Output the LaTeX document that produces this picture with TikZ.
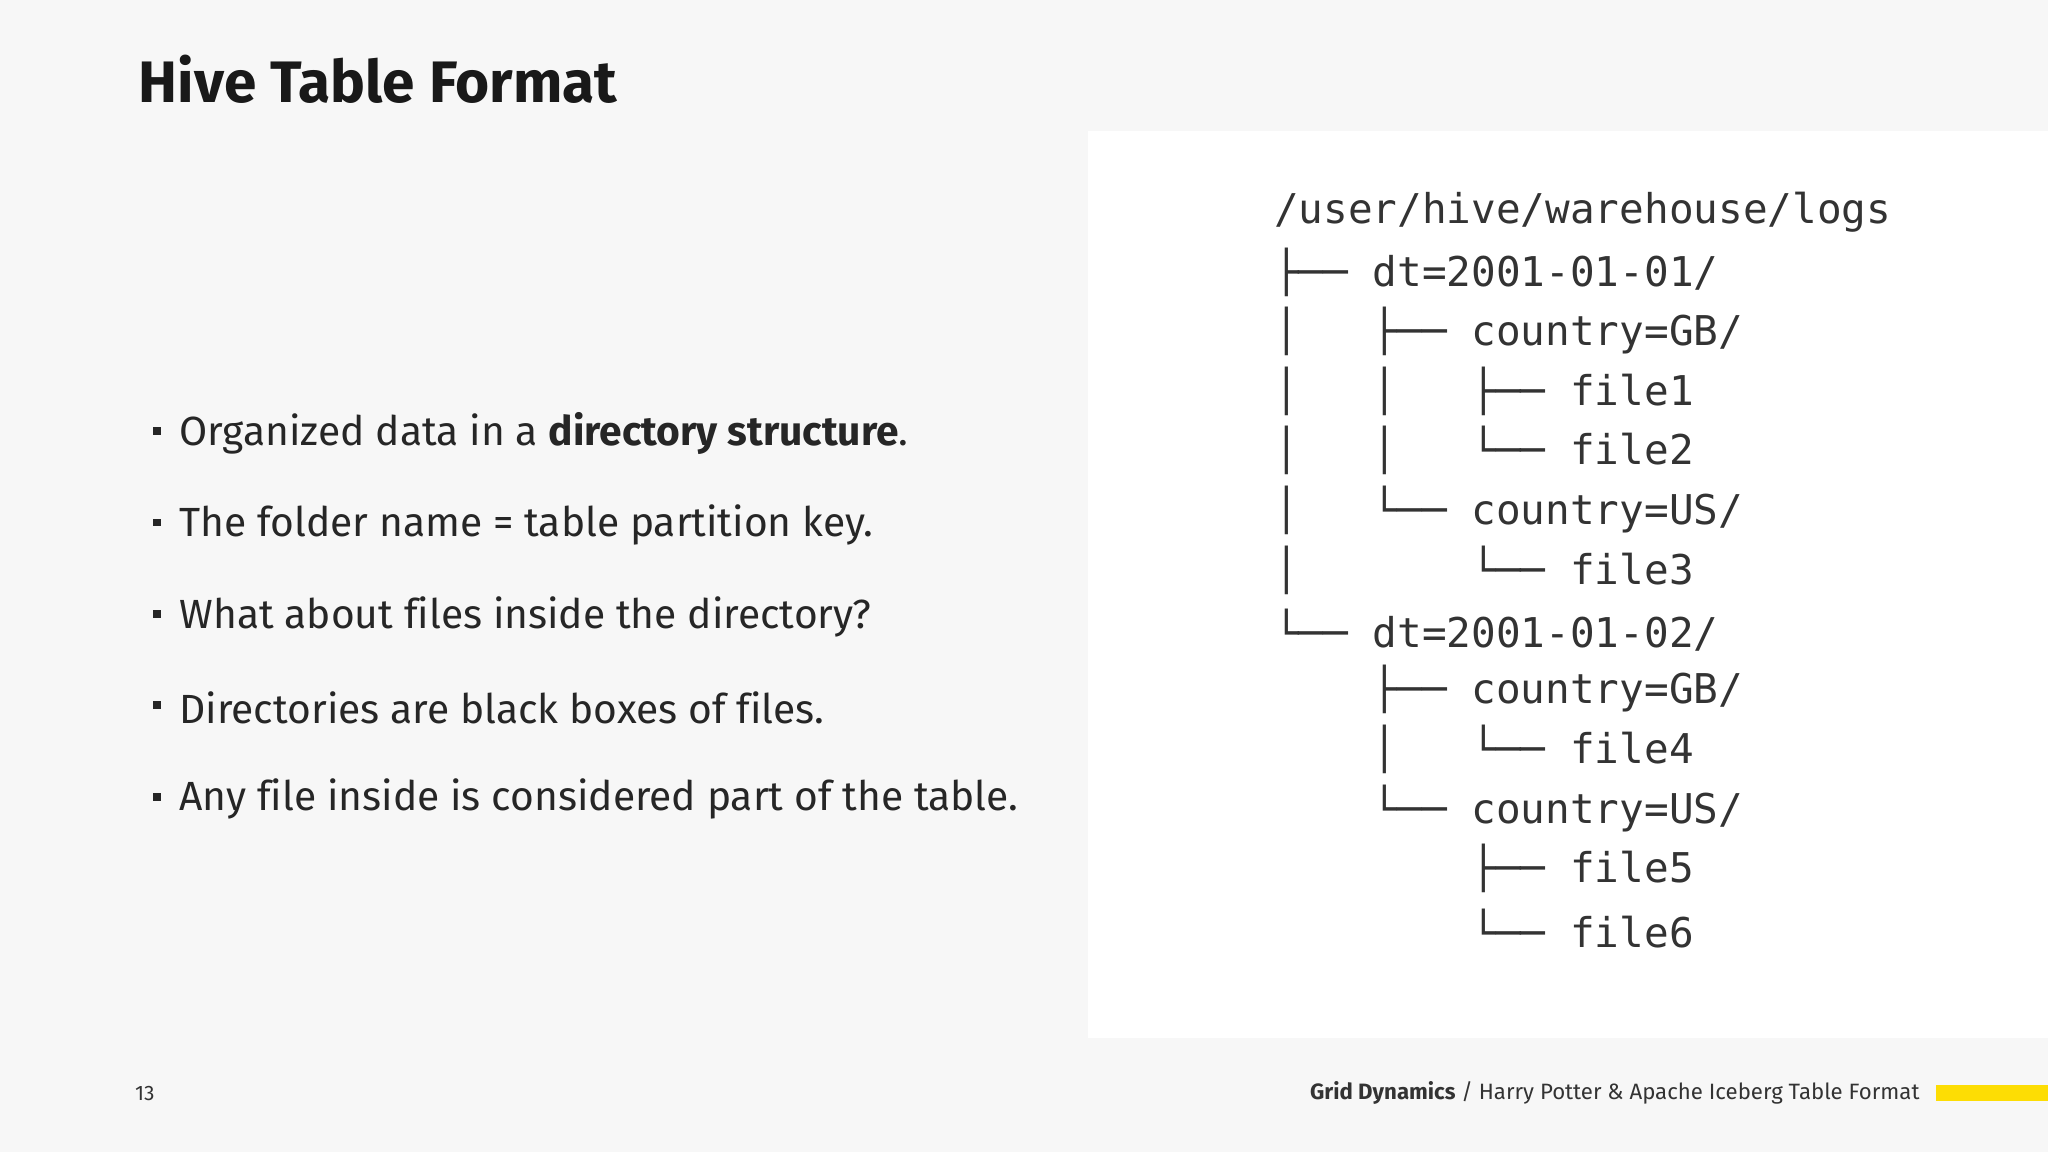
\documentclass[tikz,border=0pt]{standalone}
\usepackage{fontspec}
\setmainfont{Fira Sans}[Ligatures={NoCommon}]
\newfontfamily\treefont{DejaVu Sans Mono}
\begin{document}
\begin{tikzpicture}[x=0.5pt,y=-0.5pt,
  bul/.style={anchor=west,inner sep=0,font=\fontsize{15.6}{18}\selectfont,text=black!85},
  tr/.style={anchor=west,inner sep=0,font=\treefont\fontsize{15.7}{20}\selectfont,text=black!80}]
\fill[black!3] (0,0) rectangle (1568,882);
\useasboundingbox (0,0) rectangle (1568,882);
\fill[white] (833,100) rectangle (1568,795);
\node[anchor=west,inner sep=0,font=\bfseries\fontsize{22.4}{26}\selectfont,text=black!90] (title) at (106,61) {Hive Table Format};
\foreach \y/\t [count=\i] in {332/{Organized data in a \textbf{directory structure}.},402/{The folder name = table partition key.},472/{What about files inside the directory?},542/{Directories are black boxes of files.},612/{Any file inside is considered part of the table.}}{
  \fill[black!85] (117,\y-5) rectangle (123,\y+1);
  \node[bul] (b\i) at (137,\y) {\t};
}
\foreach \t [count=\i] in {/user/hive/warehouse/logs,├──~dt=2001-01-01/,│~~~├──~country=GB/,│~~~│~~~├──~file1,│~~~│~~~└──~file2,│~~~└──~country=US/,│~~~~~~~└──~file3,└──~dt=2001-01-02/,~~~~├──~country=GB/,~~~~│~~~└──~file4,~~~~└──~country=US/,~~~~~~~~├──~file5,~~~~~~~~└──~file6}{
  \node[tr] (t\i) at (975,{162.5+(\i-1)*45.67}) {\t};
}
\node[anchor=west,inner sep=0,font=\fontsize{8}{10}\selectfont,text=black!80] (pg) at (103,837) {13};
\node[anchor=east,inner sep=0,font=\fontsize{8.5}{10}\selectfont,text=black!80] (ft) at (1470,837) {\textbf{Grid Dynamics} / Harry Potter \& Apache Iceberg Table Format};
\fill[yellow!80!orange] (1482,831) rectangle (1568,843);
\end{tikzpicture}
\end{document}
